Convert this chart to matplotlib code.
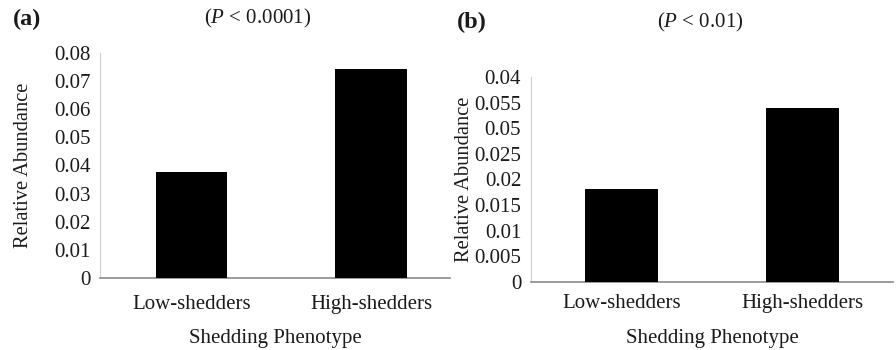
import numpy as np
import matplotlib
matplotlib.use("Agg")
import matplotlib.pyplot as plt

plt.rcParams['font.family'] = ['Liberation Serif', 'DejaVu Serif']
plt.rcParams['mathtext.fontset'] = 'custom'
plt.rcParams['mathtext.it'] = 'Liberation Serif:italic'
plt.rcParams['mathtext.rm'] = 'Liberation Serif'

# data
categories = ['Low-shedders', 'High-shedders']
abundance_a = [0.0377, 0.0744]
abundance_b = [0.0182, 0.0340]

ticks_a = [0, 0.01, 0.02, 0.03, 0.04, 0.05, 0.06, 0.07, 0.08]
ticklabels_a = ['0', '0.01', '0.02', '0.03', '0.04', '0.05', '0.06', '0.07', '0.08']
ticks_b = [0, 0.005, 0.01, 0.015, 0.02, 0.025, 0.03, 0.035, 0.04]
# labels as printed in the original figure
ticklabels_b = ['0', '0.005', '0.01', '0.015', '0.02', '0.025', '0.05', '0.055', '0.04']

text_color = '#1a1a1a'


def bar_panel(ax, values, ticks, ticklabels, xlim, xpad, ylabelpad, xlabelpad):
    x = np.arange(len(categories))
    ax.bar(x, values, width=0.4, color='black', zorder=3)
    ax.set_xlim(*xlim)
    ax.set_ylim(0, ticks[-1])
    ax.set_yticks(ticks)
    ax.set_yticklabels(ticklabels, fontsize=15, color=text_color)
    ax.set_xticks(x)
    ax.set_xticklabels(categories, fontsize=15, color=text_color)
    ax.tick_params(axis='both', length=0)
    ax.tick_params(axis='x', pad=xpad)
    ax.tick_params(axis='y', pad=7)
    for side in ['top', 'right']:
        ax.spines[side].set_visible(False)
    ax.spines['left'].set_color('#cfcfcf')
    ax.spines['bottom'].set_color('#8a8a8a')
    ax.spines['bottom'].set_linewidth(1.2)
    ax.set_ylabel('Relative Abundance', fontsize=14.8, color=text_color, labelpad=ylabelpad)
    ax.set_xlabel('Shedding Phenotype', fontsize=15, color=text_color, labelpad=xlabelpad)


fig = plt.figure(figsize=(8.96, 3.5), dpi=100)

ax1 = fig.add_axes([0.1116, 0.2057, 0.3906, 0.6429])
bar_panel(ax1, abundance_a, ticks_a, ticklabels_a, (-0.51, 1.44), 12, 15, 11)

ax2 = fig.add_axes([0.5926, 0.1943, 0.4040, 0.5857])
bar_panel(ax2, abundance_b, ticks_b, ticklabels_b, (-0.5, 1.5), 9, 0, 11)

fig.text(0.0145, 0.943, '(a)', fontsize=17.5, fontweight='bold', color=text_color, va='center')
fig.text(0.288, 0.946, r'($\it{P}$ < 0.0001)', fontsize=15, color=text_color, ha='center', va='center')
fig.text(0.510, 0.937, '(b)', fontsize=17.5, fontweight='bold', color=text_color, va='center')
fig.text(0.782, 0.937, r'($\it{P}$ < 0.01)', fontsize=15, color=text_color, ha='center', va='center')

plt.savefig('out.png', dpi=100)
